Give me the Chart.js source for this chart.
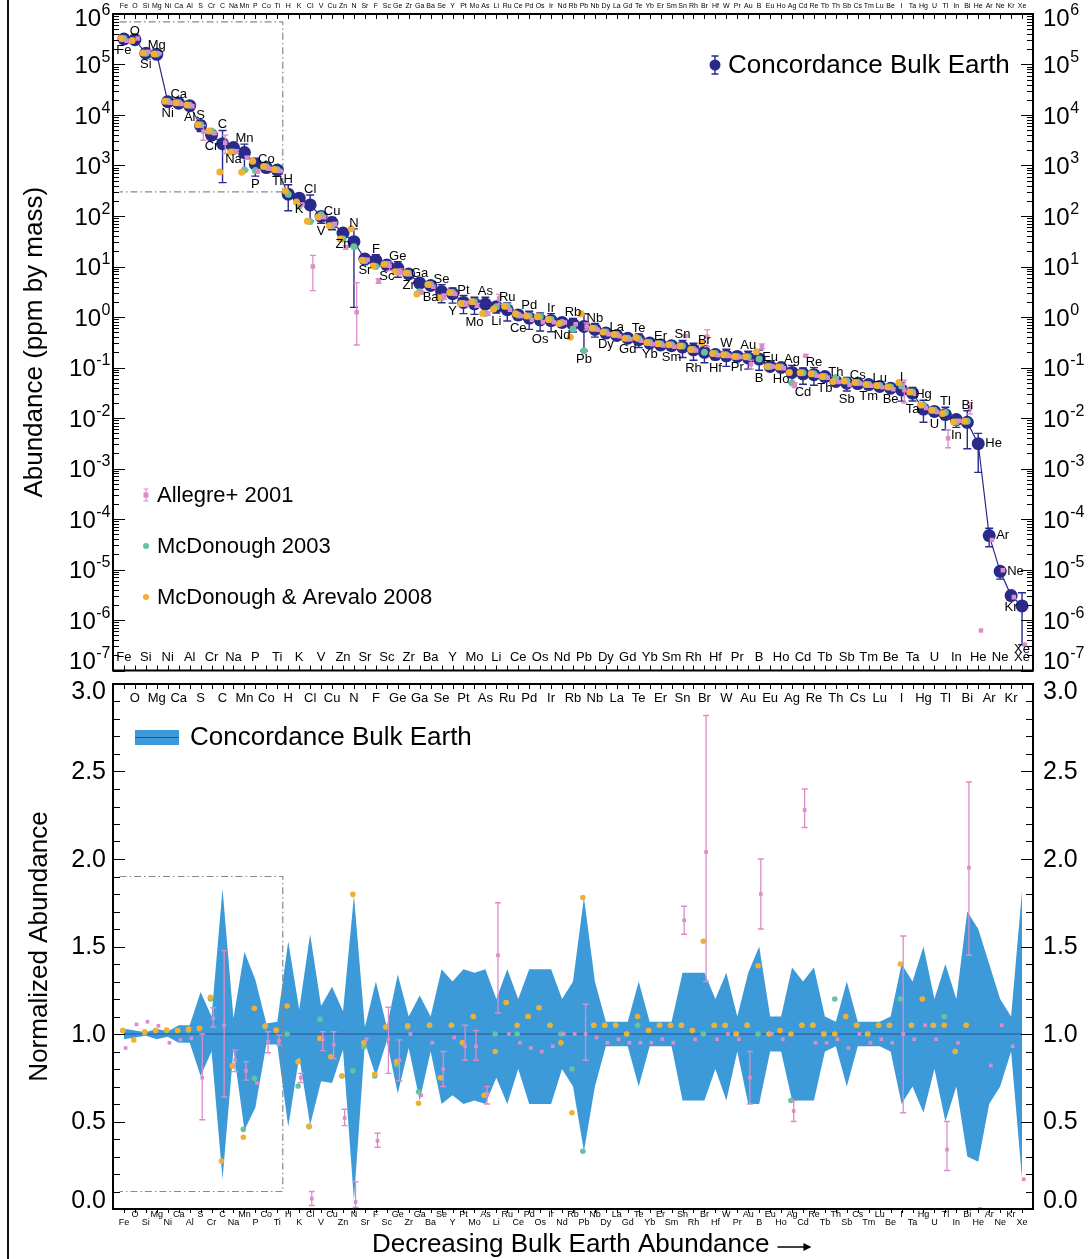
<!DOCTYPE html>
<html lang="en">
<head>
<meta charset="UTF-8" />
<title>Bulk Earth abundances</title>
<script src="https://cdn.jsdelivr.net/npm/chart.js"></script>
<style>
  body { margin: 0; padding: 0; background: #fff; }
  .page { position: relative; width: 1090px; height: 1259px; overflow: hidden; }
  .edge { position: absolute; left: 7px; top: 0; width: 2px; height: 1259px; background: #111; }
  #topChart { position: absolute; left: 0; top: 0; }
  #bottomChart { position: absolute; left: 0; top: 677px; }
</style>
</head>
<body>
<div class="page">
  <div class="edge"></div>
  <canvas id="topChart" width="1090" height="677"></canvas>
  <canvas id="bottomChart" width="1090" height="582"></canvas>
</div>
<script>
// elements, in order of decreasing bulk Earth abundance
const elements = [
  "Fe","O","Si","Mg","Ni","Ca","Al","S","Cr","C",
  "Na","Mn","P","Co","Ti","H","K","Cl","V","Cu",
  "Zn","N","Sr","F","Sc","Ge","Zr","Ga","Ba","Se",
  "Y","Pt","Mo","As","Li","Ru","Ce","Pd","Os","Ir",
  "Nd","Rb","Pb","Nb","Dy","La","Gd","Te","Yb","Er",
  "Sm","Sn","Rh","Br","Hf","W","Pr","Au","B","Eu",
  "Ho","Ag","Cd","Re","Tb","Th","Sb","Cs","Tm","Lu",
  "Be","I","Ta","Hg","U","Tl","In","Bi","He","Ar",
  "Ne","Kr","Xe"
];

// concordance bulk Earth, ppm by mass
const concordance = [
  3.2e5, 3.1e5, 1.67e5, 1.59e5, 1.84e4, 1.71e4, 1.53e4, 6.2e3, 4.0e3, 2.7e3,
  2.26e3, 1.8e3, 1.06e3, 910, 810, 271, 225, 166, 98, 74,
  46, 31, 14, 13.2, 10.7, 9.3, 7.1, 4.7, 4.2, 3.2,
  2.9, 1.94, 1.82, 1.8, 1.6, 1.39, 1.1, 0.95, 0.88, 0.85,
  0.78, 0.72, 0.65, 0.57, 0.48, 0.43, 0.38, 0.355, 0.305, 0.28,
  0.27, 0.254, 0.224, 0.2, 0.18, 0.17, 0.166, 0.155, 0.147, 0.105,
  0.1, 0.08, 0.075, 0.072, 0.066, 0.053, 0.049, 0.048, 0.046, 0.042,
  0.039, 0.036, 0.031, 0.015, 0.0135, 0.0117, 0.0093, 0.0082, 0.0031, 4.7e-5,
  9.2e-6, 3.05e-6, 1.9e-6
];

// relative uncertainty of the concordance values (normalized upper / lower bound)
const bandUpper = [
  1.03, 1.02, 1.01, 1.03, 1.015, 1.05, 1.05, 1.24, 1.1, 1.83,
  1.09, 1.47, 1.31, 1.06, 1.07, 1.53, 1.14, 1.57, 1.16, 1.27,
  1.13, 1.79, 1.04, 1.30, 1.04, 1.34, 1.1, 1.22, 1.1, 1.37,
  1.3, 1.37, 1.35, 1.37, 1.2, 1.37, 1.2, 1.37, 1.37, 1.37,
  1.2, 1.3, 1.78, 1.3, 1.07, 1.07, 1.07, 1.3, 1.07, 1.07,
  1.07, 1.35, 1.35, 1.35, 1.2, 1.35, 1.1, 1.35, 1.5, 1.1,
  1.1, 1.38, 1.3, 1.38, 1.1, 1.07, 1.3, 1.07, 1.07, 1.07,
  1.1, 1.4, 1.3, 1.5, 1.2, 1.4, 1.2, 1.7, 1.6, 1.4,
  1.2, 1.1, 1.82
];
const bandLower = [
  0.97, 0.98, 0.99, 0.97, 0.985, 0.95, 0.95, 0.76, 0.9, 0.17,
  0.91, 0.45, 0.58, 0.94, 0.94, 0.47, 0.87, 0.48, 0.73, 0.72,
  0.91, 0.05, 0.95, 0.76, 0.96, 0.66, 0.92, 0.62, 0.9, 0.6,
  0.65, 0.6, 0.62, 0.6, 0.75, 0.6, 0.8, 0.6, 0.6, 0.6,
  0.8, 0.7, 0.33, 0.7, 0.93, 0.93, 0.93, 0.7, 0.93, 0.93,
  0.93, 0.62, 0.62, 0.62, 0.8, 0.62, 0.9, 0.6, 0.6, 0.9,
  0.9, 0.62, 0.62, 0.62, 0.9, 0.93, 0.7, 0.93, 0.93, 0.93,
  0.9, 0.6, 0.7, 0.55, 0.8, 0.5, 0.7, 0.3, 0.27, 0.6,
  0.7, 0.9, 0.17
];

// other estimates, normalized to the concordance value
const allegre = [
  0.92, 1.055, 1.07, 1.047, 0.95, 0.966, 0.975, 0.75, 1.09, 1.05,
  0.85, 0.79, 0.72, 0.956, 0.96, null, 0.75, 0.06, 0.97, 0.94,
  0.52, 0.04, 0.97, 0.39, 0.97, 0.85, 1.0, 0.65, 0.95, 0.8,
  0.98, 0.93, 0.93, 0.66, 1.45, 1.0, 0.95, 0.92, 0.9, 0.93,
  1.0, 1.0, 1.0, 0.98, 0.95, 0.97, 0.95, 0.95, 0.95, 0.97,
  0.95, 1.65, 0.97, 2.04, 0.97, 1.0, 0.97, 0.75, 1.8, 1.0,
  0.97, 0.56, 2.28, 0.95, 0.95, 0.97, 0.92, 1.0, 0.95, 0.97,
  0.95, 1.0, 0.97, 1.05, 0.97, 0.34, 0.95, 1.95, 0.0002, 0.82,
  1.05, 0.93, 0.17
];
const allegreLo = [
  null, null, null, null, null, null, null, 0.51, 1.04, 0.64,
  0.785, 0.737, null, 0.893, 0.937, null, 0.722, 0.02, 0.905, 0.86,
  0.476, 0.009, null, 0.353, 0.775, 0.733, null, null, null, 0.7,
  null, 0.85, 0.85, 0.6, 1.12, null, null, null, null, null,
  null, null, 0.85, null, null, null, null, null, null, null,
  null, 1.57, null, 1.3, null, null, null, 0.6, 1.6, null,
  null, 0.5, 2.18, null, null, null, null, null, null, null,
  null, 0.55, null, null, null, 0.22, null, 1.45, null, null,
  null, null, null
];
const allegreHi = [
  null, null, null, null, null, null, null, 1.0, 1.15, 1.476,
  0.908, 0.842, null, 1.013, 0.994, null, 0.775, 0.1, 1.013, 1.013,
  0.57, 0.155, null, 0.433, 1.153, 0.966, null, null, null, 0.9,
  null, 1.05, 1.02, 0.7, 1.75, null, null, null, null, null,
  null, null, 1.17, null, null, null, null, null, null, null,
  null, 1.73, null, 2.82, null, null, null, 0.9, 2.0, null,
  null, 0.62, 2.4, null, null, null, null, null, null, null,
  null, 1.56, null, null, null, 0.5, null, 2.44, null, null,
  null, null, null
];
const mcdonough03 = [
  1.02, null, 1.005, 1.02, 1.02, 1.02, 1.02, 1.03, 1.2, null,
  0.82, 0.455, 0.747, 1.04, 1.02, 1.0, 0.703, 0.47, 1.084, 0.87,
  0.76, 0.79, 0.927, 0.76, 1.04, 0.825, 1.04, 0.67, 1.05, 0.75,
  1.05, 0.95, 1.1, 0.65, 1.0, 1.18, 1.0, 1.1, 1.15, 1.05,
  1.0, 0.8, 0.33, 1.05, 1.05, 1.05, 1.0, 1.05, 1.02, 1.05,
  1.05, 1.05, 1.02, 1.0, 1.05, 1.05, 1.0, 1.05, 1.0, 1.0,
  1.02, 0.62, 1.05, 1.05, 1.0, 1.2, 1.1, 1.05, 1.0, 1.05,
  1.05, 1.2, 1.05, 1.2, 1.05, 1.1, 0.9, 1.05, null, null,
  null, null, null
];
const mcdonough08 = [
  1.02, 0.966, 1.013, 1.02, 1.023, 1.02, 1.028, 1.033, 1.21, 0.274,
  0.817, 0.41, 1.147, 1.047, 1.023, 1.16, 0.842, 0.474, 0.975, 0.87,
  0.76, 1.798, 0.95, 0.771, 1.04, 0.842, 1.047, 0.604, 1.05, 0.75,
  1.05, 0.95, 1.1, 0.65, 0.9, 1.18, 1.05, 1.1, 1.15, 1.05,
  0.95, 0.55, 1.78, 1.05, 1.05, 1.05, 1.0, 1.1, 1.02, 1.05,
  1.05, 1.05, 1.02, 1.53, 1.05, 1.05, 1.0, 1.05, 1.39, 1.0,
  1.02, 1.0, 1.05, 1.05, 1.0, 1.0, 1.1, 1.05, 1.0, 1.05,
  1.05, 1.4, 1.05, 1.2, 1.05, 1.05, 0.9, 1.05, null, null,
  null, null, null
];

const logTicks = [-7, -6, -5, -4, -3, -2, -1, 0, 1, 2, 3, 4, 5, 6];
const normTicks = ["0.0", "0.5", "1.0", "1.5", "2.0", "2.5", "3.0"];

const FONT = '"Liberation Sans", Arial, Helvetica, sans-serif';
const NAVY = '#2a2a8a';
const PINK = '#dc8cc9';
const GREEN = '#68c29c';
const ORANGE = '#f0b034';
const BAND = '#3d9ad8';
const BOXLINE = '#8a8a8a';

function series(vals, shift) {
  return vals.map((v, i) => ({ x: i + 1 + shift, y: v }));
}
function scaled(ratios) {
  return ratios.map((r, i) => (r == null ? null : r * concordance[i]));
}

function text(ctx, s, x, y, size, align, base) {
  ctx.font = size + 'px ' + FONT;
  ctx.textAlign = align || 'center';
  ctx.textBaseline = base || 'middle';
  ctx.fillStyle = '#000';
  ctx.fillText(s, x, y);
}

function errorBar(ctx, x, y1, y2, cap, color, width) {
  ctx.strokeStyle = color;
  ctx.lineWidth = width;
  ctx.beginPath();
  ctx.moveTo(x, y1); ctx.lineTo(x, y2);
  ctx.moveTo(x - cap, y1); ctx.lineTo(x + cap, y1);
  ctx.moveTo(x - cap, y2); ctx.lineTo(x + cap, y2);
  ctx.stroke();
}

function frameAndXTicks(chart, outsideBottom) {
  const { ctx, chartArea: a, scales } = chart;
  ctx.save();
  ctx.strokeStyle = '#000';
  ctx.lineWidth = 1;
  ctx.beginPath();
  elements.forEach((el, i) => {
    const x = Math.round(scales.x.getPixelForValue(i + 1)) + 0.5;
    ctx.moveTo(x, a.top); ctx.lineTo(x, a.top + 5);
    if (outsideBottom) { ctx.moveTo(x, a.bottom); ctx.lineTo(x, a.bottom + 4); }
    else { ctx.moveTo(x, a.bottom); ctx.lineTo(x, a.bottom - 5); }
  });
  ctx.stroke();
  ctx.lineWidth = 2;
  ctx.strokeRect(a.left, a.top, a.right - a.left, a.bottom - a.top);
  ctx.restore();
}

// errors bars drawn just under their own markers
function drawErrors(chart, idx, withConcordance) {
  const { ctx, chartArea: a, scales } = chart;
  const ds = chart.data.datasets[idx];
  ctx.save();
  ctx.beginPath();
  ctx.rect(a.left, a.top, a.right - a.left, a.bottom - a.top);
  ctx.clip();
  if (ds.role === 'concordance') {
    concordance.forEach((v, i) => {
      const x = scales.x.getPixelForValue(i + 1);
      errorBar(ctx, x, scales.y.getPixelForValue(v * bandUpper[i]),
        scales.y.getPixelForValue(v * bandLower[i]), 4, NAVY, 1.4);
    });
  }
  if (ds.role === 'allegre') {
    allegre.forEach((r, i) => {
      if (allegreLo[i] == null) return;
      const base = withConcordance ? concordance[i] : 1;
      const x = scales.x.getPixelForValue(i + 1 + ds.shift);
      errorBar(ctx, x, scales.y.getPixelForValue(base * allegreHi[i]),
        scales.y.getPixelForValue(base * allegreLo[i]), 3, PINK, 1.3);
    });
  }
  ctx.restore();
}

const topDecor = {
  id: 'topDecor',
  beforeDatasetDraw(chart, args) { drawErrors(chart, args.index, true); },
  afterDraw(chart) {
    const { ctx, chartArea: a, scales } = chart;
    const sx = scales.x, sy = scales.y;
    frameAndXTicks(chart, false);
    ctx.save();
    // log ticks on both sides
    ctx.strokeStyle = '#000';
    ctx.lineWidth = 1;
    ctx.beginPath();
    logTicks.forEach((p) => {
      const y = Math.round(sy.getPixelForValue(Math.pow(10, p))) + 0.5;
      ctx.moveTo(a.left, y); ctx.lineTo(a.left + 12, y);
      ctx.moveTo(a.right, y); ctx.lineTo(a.right - 12, y);
      if (p < 6) {
        for (let k = 2; k <= 9; k++) {
          const ym = Math.round(sy.getPixelForValue(k * Math.pow(10, p))) + 0.5;
          ctx.moveTo(a.left, ym); ctx.lineTo(a.left + 6, ym);
          ctx.moveTo(a.right, ym); ctx.lineTo(a.right - 6, ym);
        }
      }
    });
    ctx.stroke();
    // tick labels 10^n
    logTicks.forEach((p) => {
      let y = sy.getPixelForValue(Math.pow(10, p));
      if (p === 6) y += 3;
      if (p === -7) y -= 10;
      const exp = String(p);
      ctx.font = '24px ' + FONT;
      const w10 = ctx.measureText('10').width;
      ctx.font = '16px ' + FONT;
      const wE = ctx.measureText(exp).width;
      const xl = a.left - 3 - w10 - wE;
      const xr = a.right + 10;
      [xl, xr].forEach((x0) => {
        text(ctx, '10', x0, y + 8.5, 24, 'left', 'alphabetic');
        text(ctx, exp, x0 + w10 + 0.5, y - 2.5, 16, 'left', 'alphabetic');
      });
    });
    // element names: tiny along the top, every other one inside the bottom
    elements.forEach((el, i) => {
      const x = sx.getPixelForValue(i + 1);
      text(ctx, el, x, 6, 7);
      if (i % 2 === 0) text(ctx, el, x, a.bottom - 13, 13);
    });
    // element labels next to the concordance points
    elements.forEach((el, i) => {
      const x = sx.getPixelForValue(i + 1);
      const y = sy.getPixelForValue(concordance[i]);
      const yHi = sy.getPixelForValue(concordance[i] * bandUpper[i]);
      const yLo = sy.getPixelForValue(concordance[i] * bandLower[i]);
      if (i >= 78 && i <= 80) {
        text(ctx, el, x + 7, y, 13, 'left');
      } else if (i % 2 === 1 && i !== 81) {
        text(ctx, el, x, Math.min(y - 5, yHi - 2), 13, 'center', 'alphabetic');
      } else {
        const t = Math.min(Math.max(y + 5, yLo + 2), a.bottom - 28);
        text(ctx, el, x, t, 13, 'center', 'top');
      }
    });
    // axis title
    ctx.save();
    ctx.translate(35, (a.top + a.bottom) / 2);
    ctx.rotate(-Math.PI / 2);
    text(ctx, 'Abundance (ppm by mass)', 0, 0, 26);
    ctx.restore();
    // legends
    errorBar(ctx, 715, 56, 74, 3.5, NAVY, 1.4);
    ctx.fillStyle = NAVY;
    ctx.beginPath(); ctx.arc(715, 65, 5.5, 0, Math.PI * 2); ctx.fill();
    text(ctx, 'Concordance Bulk Earth', 728, 66, 26, 'left');
    const entries = [['Allegre+ 2001', PINK, 495], ['McDonough 2003', GREEN, 546],
      ['McDonough & Arevalo 2008', ORANGE, 597]];
    entries.forEach(([label, color, y]) => {
      if (color === PINK) {
        errorBar(ctx, 146, y - 6, y + 6, 2.5, PINK, 1.2);
        ctx.fillStyle = PINK; ctx.fillRect(143.5, y - 2.5, 5, 5);
      } else {
        ctx.fillStyle = color;
        ctx.beginPath(); ctx.arc(146, y, 3, 0, Math.PI * 2); ctx.fill();
      }
      text(ctx, label, 157, y + 1, 22, 'left');
    });
    ctx.restore();
  }
};

const bottomDecor = {
  id: 'bottomDecor',
  beforeDatasetDraw(chart, args) { drawErrors(chart, args.index, false); },
  afterDraw(chart) {
    const { ctx, chartArea: a, scales } = chart;
    const sx = scales.x, sy = scales.y;
    frameAndXTicks(chart, true);
    ctx.save();
    ctx.strokeStyle = '#000';
    ctx.lineWidth = 1;
    ctx.beginPath();
    for (let k = 0; k <= 30; k++) {
      const y = Math.round(sy.getPixelForValue(k / 10)) + 0.5;
      const len = k % 5 === 0 ? 12 : 7;
      ctx.moveTo(a.left, y); ctx.lineTo(a.left + len, y);
      ctx.moveTo(a.right, y); ctx.lineTo(a.right - len, y);
    }
    ctx.stroke();
    normTicks.forEach((lab, k) => {
      let y = sy.getPixelForValue(Number(lab));
      if (k === 0) y -= 9;
      if (k === normTicks.length - 1) y += 7;
      text(ctx, lab, a.left - 7, y + 1, 25, 'right');
      text(ctx, lab, a.right + 10, y + 1, 25, 'left');
    });
    elements.forEach((el, i) => {
      const x = sx.getPixelForValue(i + 1);
      if (i % 2 === 1) {
        text(ctx, el, x, a.top + 14, 13);
        text(ctx, el, x, a.bottom + 6, 9);
      } else {
        text(ctx, el, x, a.bottom + 14, 9);
      }
    });
    ctx.save();
    ctx.translate(40, (a.top + a.bottom) / 2);
    ctx.rotate(-Math.PI / 2);
    text(ctx, 'Normalized Abundance', 0, 0, 26);
    ctx.restore();
    text(ctx, 'Decreasing Bulk Earth Abundance', 372, 568, 26, 'left');
    ctx.font = '26px ' + FONT;
    const tx = 372 + ctx.measureText('Decreasing Bulk Earth Abundance').width + 8;
    ctx.strokeStyle = '#000'; ctx.lineWidth = 1.5;
    ctx.beginPath(); ctx.moveTo(tx, 570); ctx.lineTo(tx + 32, 570); ctx.stroke();
    ctx.beginPath(); ctx.moveTo(tx + 34, 570); ctx.lineTo(tx + 26, 566); ctx.lineTo(tx + 26, 574);
    ctx.closePath(); ctx.fillStyle = '#000'; ctx.fill();
    // legend
    ctx.fillStyle = BAND;
    ctx.fillRect(135, 53, 44, 15);
    ctx.strokeStyle = '#2c4f95'; ctx.lineWidth = 1.2;
    ctx.beginPath(); ctx.moveTo(135, 60.5); ctx.lineTo(179, 60.5); ctx.stroke();
    text(ctx, 'Concordance Bulk Earth', 190, 61, 26, 'left');
    ctx.restore();
  }
};

const boxTop = [{ x: 0.6, y: 7e5 }, { x: 15.5, y: 7e5 }, { x: 15.5, y: 300 }, { x: 0.6, y: 300 }];
const boxBottom = [{ x: 0.6, y: 1.9 }, { x: 15.5, y: 1.9 }, { x: 15.5, y: 0.1 }, { x: 0.6, y: 0.1 }];

function boxDataset(data, order) {
  return { data, showLine: true, borderColor: BOXLINE, borderWidth: 1.2,
    borderDash: [7, 3, 1.5, 3], pointRadius: 0, fill: false, order };
}
function dotDataset(data, color, radius, shift, role, order, style) {
  return { data, showLine: false, pointRadius: radius, pointBackgroundColor: color,
    pointBorderWidth: 0, pointStyle: style || 'circle', borderColor: color,
    shift, role, order };
}

const common = {
  responsive: false,
  animation: false,
  events: [],
  plugins: { legend: { display: false }, tooltip: { enabled: false } },
};

new Chart(document.getElementById('topChart'), {
  type: 'scatter',
  data: {
    datasets: [
      boxDataset(boxTop, 9),
      { data: series(concordance, 0), showLine: true, borderColor: NAVY, borderWidth: 1.2,
        pointRadius: 6.5, pointBackgroundColor: NAVY, pointBorderWidth: 0,
        role: 'concordance', shift: 0, order: 8 },
      dotDataset(series(scaled(mcdonough03), 0), GREEN, 3.5, 0, 'mcd03', 7),
      dotDataset(series(scaled(mcdonough08), -0.25), ORANGE, 3.5, -0.25, 'mcd08', 6),
      dotDataset(series(scaled(allegre), 0.25), PINK, 3.2, 0.25, 'allegre', 5, 'rect'),
    ]
  },
  options: Object.assign({}, common, {
    layout: { padding: { left: 113, right: 57, top: 14, bottom: 6 } },
    scales: {
      x: { type: 'linear', min: 0, max: 84, display: false },
      y: { type: 'logarithmic', min: 1e-7, max: 1e6, display: false },
    },
  }),
  plugins: [topDecor],
});

new Chart(document.getElementById('bottomChart'), {
  type: 'scatter',
  data: {
    datasets: [
      { data: series(bandUpper, 0), showLine: true, borderWidth: 0, pointRadius: 0,
        backgroundColor: BAND, borderColor: BAND, fill: '+1', order: 12 },
      { data: series(bandLower, 0), showLine: true, borderWidth: 0, pointRadius: 0,
        borderColor: BAND, fill: false, order: 11 },
      { data: series(elements.map(() => 1), 0), showLine: true, borderColor: '#2c4f95',
        borderWidth: 1.2, pointRadius: 0, fill: false, order: 10 },
      boxDataset(boxBottom, 9),
      dotDataset(series(mcdonough03, -0.1), GREEN, 2.8, -0.1, 'mcd03', 7),
      dotDataset(series(mcdonough08, -0.1), ORANGE, 2.8, -0.1, 'mcd08', 6),
      dotDataset(series(allegre, 0.15), PINK, 2.6, 0.15, 'allegre', 5, 'rect'),
    ]
  },
  options: Object.assign({}, common, {
    layout: { padding: { left: 113, right: 57, top: 7, bottom: 50 } },
    scales: {
      x: { type: 'linear', min: 0, max: 84, display: false },
      y: { type: 'linear', min: 0, max: 3, display: false },
    },
  }),
  plugins: [bottomDecor],
});
</script>
</body>
</html>
